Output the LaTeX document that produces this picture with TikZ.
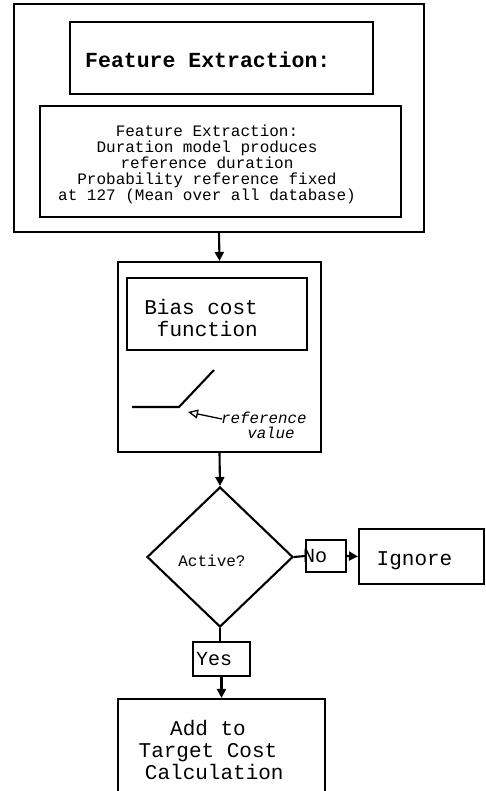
\documentclass[tikz,border=0pt]{standalone}
\usepackage{fontspec}
\setmainfont{Liberation Mono}
\usetikzlibrary{shapes.geometric,arrows.meta}
\begin{document}
\begin{tikzpicture}[x=1pt,y=-1pt,
  box/.style={draw,line width=2.1pt,rectangle,inner sep=0pt},
  conn/.style={line width=2.1pt},
  arr/.style={conn,-{Triangle[length=9pt,width=9pt]}},
  txt/.style={inner sep=0pt,font=\fontsize{16}{16}\selectfont,align=center},
  big/.style={inner sep=0pt,font=\fontsize{21}{22}\selectfont,align=center}]
\useasboundingbox (0,0) rectangle (485,791);
\clip (0,0) rectangle (485,791);
% top group
\node[box,minimum width=410pt,minimum height=228pt] (outer) at (219,118) {};
\node[box,minimum width=303pt,minimum height=72pt] (fe1) at (221.5,58) {};
\node[inner sep=0pt,anchor=west,font=\fontsize{21.5}{24}\bfseries\selectfont] (fe1t) at (85,60) {Feature Extraction:};
\node[box,minimum width=361pt,minimum height=111pt] (fe2) at (220.5,161.5) {};
\node[txt] (fe2t) at (207,164) {Feature Extraction:\\Duration model produces\\reference duration\\Probability reference fixed\\at 127 (Mean over all database)};
% bias group
\node[box,minimum width=203pt,minimum height=190pt] (bias) at (219.5,357) {};
\node[box,minimum width=180pt,minimum height=72pt] (biasf) at (217,314) {};
\node[big,align=right,anchor=east] (biast) at (258,318) {Bias cost\\function};
\coordinate (g1) at (132,407);
\coordinate (g2) at (179,407);
\coordinate (g3) at (214,370);
\draw[conn] (g1) -- (g2) -- (g3);
\node[inner sep=0pt,anchor=west,align=left,font=\fontsize{15.8}{15}\itshape\selectfont] (reft) at (221,425) {reference\\\hspace*{1.65em}value};
\coordinate (reftip) at (188,412);
\coordinate (refstart) at (222,419);
\draw[line width=1.3pt,-{Triangle[open,length=10pt,width=9pt]}] (refstart) -- (reftip);
% decision
\node[draw,line width=2.1pt,diamond,inner sep=0pt,minimum width=146pt,minimum height=140pt] (dec) at (220,557) {};
\node[txt] (dect) at (212,561) {Active?};
\node[box,minimum width=40pt,minimum height=32pt] (no) at (326,556) {};
\node[big,font=\fontsize{20}{20}\selectfont] (not) at (315,556) {No};
\node[box,minimum width=125pt,minimum height=55pt] (ign) at (421.5,556.5) {};
\node[big] (ignt) at (414.5,561) {Ignore};
\node[box,minimum width=57pt,minimum height=34pt] (yes) at (221.5,659) {};
\node[big,font=\fontsize{20}{20}\selectfont] (yest) at (214,659) {Yes};
\node[box,minimum width=207pt,minimum height=101pt] (fin) at (221.5,749.5) {};
\node[big] (fint) at (208,750) {Add to\\Target Cost\\\ Calculation};
% connectors
\draw[arr] (outer.south) -- (bias.north);
\draw[arr] (bias.south) -- (dec.north);
\draw[conn] (dec.east) -- (no.west);
\draw[arr] (no.east) -- (ign.west);
\draw[conn] (dec.south) -- (dec.south |- yes.north);
\draw[arr] (yes.south) -- (yes.south |- fin.north);
\end{tikzpicture}
\end{document}
